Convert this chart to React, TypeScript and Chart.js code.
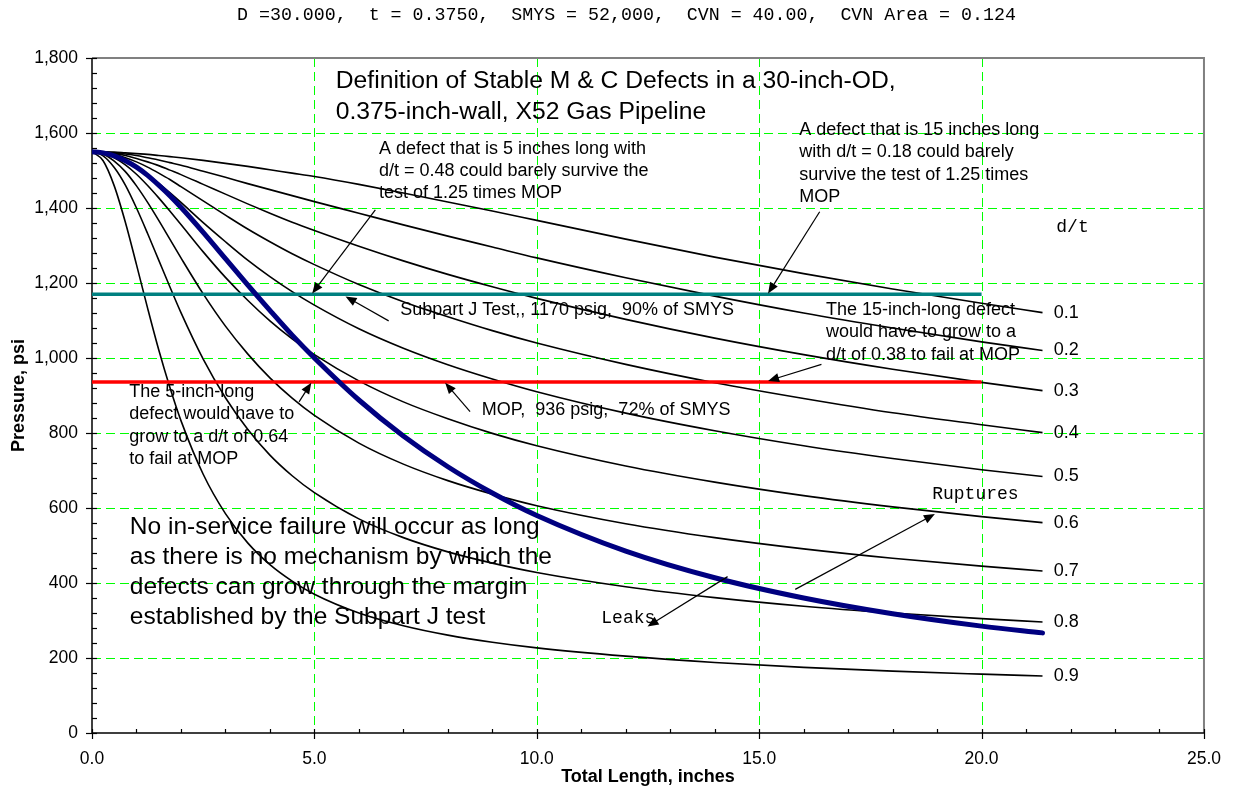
import React, { useEffect, useRef } from "react";
import { Chart, registerables } from "chart.js";

Chart.register(...registerables);

const SANS = "'Liberation Sans', Arial, Helvetica, sans-serif";
const MONO = "'Liberation Mono', 'Courier New', monospace";

// ---- data ----
const lengths = [0, 0.25, 0.5, 0.75, 1, 1.25, 1.5, 1.75, 2, 2.5, 3, 3.5, 4, 4.5, 5, 6, 7, 8, 9, 10, 12, 14, 16, 18, 20, 21.37];

const dt01 = [1550, 1550, 1549, 1547, 1545, 1543, 1540, 1537, 1534, 1527, 1519, 1511, 1502, 1493, 1484, 1463, 1440, 1416, 1392, 1367, 1317, 1269, 1225, 1184, 1146, 1121];
const dt02 = [1550, 1549, 1547, 1544, 1540, 1534, 1528, 1521, 1514, 1498, 1482, 1465, 1449, 1433, 1417, 1386, 1355, 1325, 1296, 1267, 1214, 1165, 1120, 1080, 1043, 1020];
const dt03 = [1550, 1549, 1545, 1540, 1532, 1523, 1513, 1501, 1489, 1463, 1437, 1411, 1386, 1362, 1340, 1298, 1259, 1223, 1190, 1159, 1103, 1053, 1009, 970, 935, 913];
const dt04 = [1550, 1548, 1543, 1534, 1523, 1509, 1493, 1476, 1457, 1419, 1381, 1344, 1310, 1278, 1249, 1196, 1150, 1110, 1073, 1040, 983, 934, 892, 854, 822, 801];
const dt05 = [1550, 1547, 1539, 1527, 1510, 1489, 1466, 1441, 1415, 1361, 1310, 1261, 1217, 1177, 1141, 1078, 1026, 982, 944, 910, 853, 806, 766, 732, 702, 684];
const dt06 = [1550, 1546, 1534, 1515, 1490, 1460, 1427, 1392, 1356, 1283, 1215, 1154, 1099, 1051, 1009, 939, 883, 838, 799, 766, 712, 669, 633, 603, 577, 561];
const dt07 = [1550, 1544, 1525, 1497, 1459, 1415, 1367, 1317, 1267, 1171, 1085, 1011, 947, 893, 847, 773, 717, 673, 637, 606, 558, 521, 491, 466, 445, 432];
const dt08 = [1550, 1539, 1508, 1461, 1400, 1332, 1261, 1190, 1121, 997, 894, 810, 741, 686, 641, 571, 521, 483, 453, 428, 390, 361, 338, 320, 305, 296];
const dt09 = [1550, 1526, 1459, 1362, 1249, 1133, 1022, 922, 833, 690, 585, 507, 449, 405, 370, 320, 286, 261, 242, 227, 205, 188, 175, 165, 157, 152];
const leakRuptureBoundary = [1550, 1547, 1539, 1526, 1509, 1487, 1461, 1433, 1402, 1335, 1265, 1195, 1127, 1061, 1000, 888, 792, 710, 640, 580, 485, 414, 360, 318, 285, 267];

const dtCurves = [dt01, dt02, dt03, dt04, dt05, dt06, dt07, dt08, dt09];
const dtLabels = ["0.1", "0.2", "0.3", "0.4", "0.5", "0.6", "0.7", "0.8", "0.9"];

const refLineLengths = [0, 20];
const subpartJPressure = 1170;
const mopPressure = 936;

const xTickStep = 5;
const yTickStep = 200;

const header = "D =30.000,  t = 0.3750,  SMYS = 52,000,  CVN = 40.00,  CVN Area = 0.124";

// ---- annotations (data units) ----
type Note = { lines: string[]; x: number; y: number; size: number; step?: number; mono?: boolean };
const notes: Note[] = [
  { lines: ["Definition of Stable M & C Defects in a 30-inch-OD,", "0.375-inch-wall, X52 Gas Pipeline"], x: 5.48, y: 1738, size: 24.7, step: 31 },
  { lines: ["A defect that is 5 inches long with", "d/t = 0.48 could barely survive the", "test of 1.25 times MOP"], x: 6.45, y: 1558, size: 18, step: 22.2 },
  { lines: ["A defect that is 15 inches long", "with d/t = 0.18 could barely", "survive the test of 1.25 times", "MOP"], x: 15.9, y: 1608, size: 18, step: 22.3 },
  { lines: ["d/t"], x: 21.68, y: 1350, size: 18, mono: true },
  { lines: ["Subpart J Test,, 1170 psig,  90% of SMYS"], x: 6.93, y: 1129, size: 18 },
  { lines: ["MOP,  936 psig,  72% of SMYS"], x: 8.76, y: 861, size: 18 },
  { lines: ["The 15-inch-long defect", "would have to grow to a", "d/t of 0.38 to fail at MOP"], x: 16.5, y: 1128, size: 18, step: 22.5 },
  { lines: ["The 5-inch-long", "defect would have to", "grow to a d/t of 0.64", "to fail at MOP"], x: 0.835, y: 910, size: 18, step: 22.5 },
  { lines: ["No in-service failure will occur as long", "as there is no mechanism by which the", "defects can grow through the margin", "established by the Subpart J test"], x: 0.85, y: 548, size: 24.5, step: 30 },
  { lines: ["Ruptures"], x: 18.89, y: 636, size: 18, mono: true },
  { lines: ["Leaks"], x: 11.45, y: 306, size: 18, mono: true },
];

const arrows: { from: [number, number]; to: [number, number] }[] = [
  { from: [6.37, 1395], to: [4.95, 1172] },
  { from: [6.67, 1099], to: [5.7, 1164] },
  { from: [16.36, 1390], to: [15.2, 1172] },
  { from: [16.4, 983], to: [15.2, 939] },
  { from: [8.5, 857], to: [7.94, 934] },
  { from: [4.655, 883], to: [4.93, 934] },
  { from: [14.29, 417], to: [12.49, 284] },
  { from: [15.81, 383], to: [18.95, 584] },
];

const dtLabelX = 21.62;

function drawArrow(ctx: CanvasRenderingContext2D, x1: number, y1: number, x2: number, y2: number) {
  const ang = Math.atan2(y2 - y1, x2 - x1);
  const L = 11;
  const W = 4.5;
  const c = Math.cos(ang);
  const s = Math.sin(ang);
  ctx.beginPath();
  ctx.moveTo(x1, y1);
  ctx.lineTo(x2 - L * 0.8 * c, y2 - L * 0.8 * s);
  ctx.stroke();
  ctx.beginPath();
  ctx.moveTo(x2, y2);
  ctx.lineTo(x2 - L * c + W * s, y2 - L * s - W * c);
  ctx.lineTo(x2 - L * c - W * s, y2 - L * s + W * c);
  ctx.closePath();
  ctx.fill();
}

const framePlugin = {
  id: "frame",
  beforeDatasetsDraw(chart: any) {
    const { ctx, chartArea: a, scales } = chart;
    const xs = scales.x;
    const ys = scales.y;
    ctx.save();
    // dashed green grid
    ctx.strokeStyle = "#00ff00";
    ctx.lineWidth = 1;
    ctx.setLineDash([9, 5]);
    for (const t of ys.ticks) {
      if (t.value <= ys.min || t.value >= ys.max) continue;
      const py = Math.round(ys.getPixelForValue(t.value)) + 0.5;
      ctx.beginPath();
      ctx.moveTo(a.left, py);
      ctx.lineTo(a.right, py);
      ctx.stroke();
    }
    for (const t of xs.ticks) {
      if (t.value <= xs.min || t.value >= xs.max) continue;
      const px = Math.round(xs.getPixelForValue(t.value)) + 0.5;
      ctx.beginPath();
      ctx.moveTo(px, a.top);
      ctx.lineTo(px, a.bottom);
      ctx.stroke();
    }
    ctx.setLineDash([]);
    // gray top / right border
    ctx.strokeStyle = "#808080";
    ctx.lineWidth = 2;
    ctx.beginPath();
    ctx.moveTo(a.left, a.top);
    ctx.lineTo(a.right, a.top);
    ctx.lineTo(a.right, a.bottom);
    ctx.stroke();
    // black axes
    ctx.strokeStyle = "#000";
    ctx.lineWidth = 1.5;
    ctx.beginPath();
    ctx.moveTo(a.left, a.top);
    ctx.lineTo(a.left, a.bottom);
    ctx.lineTo(a.right, a.bottom);
    ctx.stroke();
    // ticks
    ctx.lineWidth = 1.2;
    const yMinor = yTickStep / 5;
    for (let v = ys.min; v <= ys.max + 1e-6; v += yMinor) {
      const py = Math.round(ys.getPixelForValue(v)) + 0.5;
      const major = Math.abs(v / yTickStep - Math.round(v / yTickStep)) < 1e-6;
      ctx.beginPath();
      ctx.moveTo(major ? a.left - 6 : a.left, py);
      ctx.lineTo(a.left + 5, py);
      ctx.stroke();
    }
    const xMinor = xTickStep / 5;
    for (let v = xs.min; v <= xs.max + 1e-6; v += xMinor) {
      const px = Math.round(xs.getPixelForValue(v)) + 0.5;
      const major = Math.abs(v / xTickStep - Math.round(v / xTickStep)) < 1e-6;
      ctx.beginPath();
      ctx.moveTo(px, a.bottom - 4);
      ctx.lineTo(px, major ? a.bottom + 6 : a.bottom);
      ctx.stroke();
    }
    ctx.restore();
  },
  afterDatasetsDraw(chart: any) {
    const { ctx, scales } = chart;
    const xs = scales.x;
    const ys = scales.y;
    ctx.save();
    ctx.fillStyle = "#000";
    ctx.textBaseline = "middle";
    ctx.textAlign = "left";
    // header
    ctx.font = `18.3px ${MONO}`;
    ctx.fillText(header, 237, 15);
    // notes
    for (const n of notes) {
      ctx.font = `${n.size}px ${n.mono ? MONO : SANS}`;
      const px = xs.getPixelForValue(n.x);
      const py = ys.getPixelForValue(n.y);
      n.lines.forEach((line, i) => ctx.fillText(line, px, py + i * (n.step || 0)));
    }
    // d/t labels at the curve ends
    ctx.font = `18px ${SANS}`;
    dtCurves.forEach((c, k) => {
      ctx.fillText(dtLabels[k], xs.getPixelForValue(dtLabelX), ys.getPixelForValue(c[c.length - 1]));
    });
    // arrows
    ctx.strokeStyle = "#000";
    ctx.lineWidth = 1.2;
    for (const ar of arrows) {
      drawArrow(
        ctx,
        xs.getPixelForValue(ar.from[0]),
        ys.getPixelForValue(ar.from[1]),
        xs.getPixelForValue(ar.to[0]),
        ys.getPixelForValue(ar.to[1])
      );
    }
    ctx.restore();
  },
};

export default function App() {
  const ref = useRef<HTMLCanvasElement>(null);
  useEffect(() => {
    if (!ref.current) return;
    Chart.defaults.font.family = SANS;
    Chart.defaults.color = "#000";
    const toPts = (ys: number[]) => lengths.map((x, i) => ({ x, y: ys[i] }));
    const chart = new Chart(ref.current, {
      type: "line",
      data: {
        datasets: [
          {
            label: "Leak / rupture boundary",
            data: toPts(leakRuptureBoundary),
            borderColor: "#000080",
            borderWidth: 5,
            borderCapStyle: "round",
            cubicInterpolationMode: "monotone",
            pointRadius: 0,
            order: 0,
          },
          {
            label: "Subpart J test",
            data: refLineLengths.map((x) => ({ x, y: subpartJPressure })),
            borderColor: "#008080",
            borderWidth: 3.5,
            pointRadius: 0,
            order: 1,
          },
          {
            label: "MOP",
            data: refLineLengths.map((x) => ({ x, y: mopPressure })),
            borderColor: "#ff0000",
            borderWidth: 3.5,
            pointRadius: 0,
            order: 1,
          },
          ...dtCurves.map((c, k) => ({
            label: "d/t " + dtLabels[k],
            data: toPts(c),
            borderColor: "#000",
            borderWidth: 1.6,
            cubicInterpolationMode: "monotone" as const,
            pointRadius: 0,
            order: 2,
          })),
        ],
      } as any,
      options: {
        responsive: false,
        animation: false,
        events: [],
        layout: { padding: { left: 0, right: 28, top: 58, bottom: 0 } },
        plugins: {
          legend: { display: false },
          tooltip: { enabled: false },
          title: { display: false },
        },
        scales: {
          x: {
            type: "linear",
            min: 0,
            max: 25,
            ticks: {
              stepSize: xTickStep,
              autoSkip: false,
              maxRotation: 0,
              padding: 16,
              color: "#000",
              font: { size: 17.5, family: SANS },
              callback: (v: any) => Number(v).toFixed(1),
            },
            grid: { display: false, drawTicks: false },
            border: { display: false },
            title: {
              display: true,
              text: "Total Length, inches",
              color: "#000",
              font: { size: 18, weight: "bold", family: SANS },
              padding: { top: 0, bottom: 0 },
            },
            afterFit: (s: any) => {
              s.height = 55;
            },
          },
          y: {
            type: "linear",
            min: 0,
            max: 1800,
            ticks: {
              stepSize: yTickStep,
              padding: 14,
              color: "#000",
              font: { size: 17.5, family: SANS },
              callback: (v: any) => Number(v).toLocaleString("en-US"),
            },
            grid: { display: false, drawTicks: false },
            border: { display: false },
            title: {
              display: true,
              text: "Pressure, psi",
              color: "#000",
              font: { size: 18, weight: "bold", family: SANS },
              padding: { top: 8, bottom: 0 },
            },
            afterFit: (s: any) => {
              s.width = 92;
            },
          },
        },
      } as any,
      plugins: [framePlugin],
    });
    return () => chart.destroy();
  }, []);
  return (
    <div style={{ position: "absolute", left: 0, top: 0, width: 1237, height: 788, background: "#fff" }}>
      <canvas ref={ref} width={1237} height={788} style={{ display: "block" }} />
    </div>
  );
}
